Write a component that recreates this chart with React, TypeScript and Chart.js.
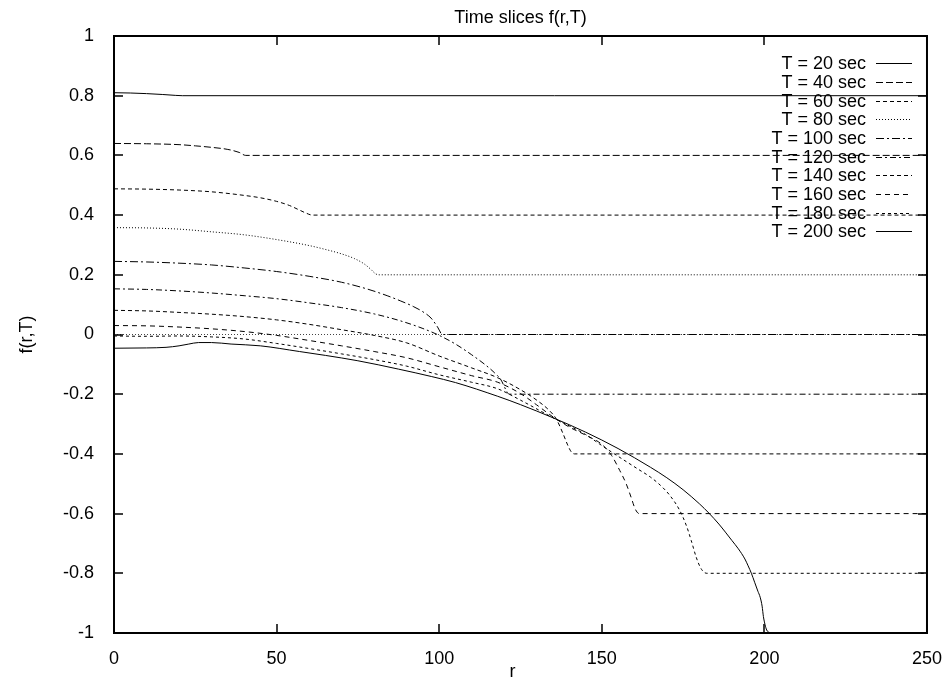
import React, { useEffect, useRef } from "react";
import { Chart, registerables } from "chart.js";

Chart.register(...registerables);

// ---------- text ----------
const TITLE = "Time slices f(r,T)";
const X_LABEL = "r";
const Y_LABEL = "f(r,T)";

// ---------- ticks ----------
const X_TICKS = [0, 50, 100, 150, 200, 250];
const X_TICK_LABELS = ["0", "50", "100", "150", "200", "250"];
const Y_TICKS = [-1, -0.8, -0.6, -0.4, -0.2, 0, 0.2, 0.4, 0.6, 0.8, 1];
const Y_TICK_LABELS = ["-1", "-0.8", "-0.6", "-0.4", "-0.2", "0", "0.2", "0.4", "0.6", "0.8", "1"];

// ---------- series ----------
const SERIES_LABELS = [
  "T = 20 sec", "T = 40 sec", "T = 60 sec", "T = 80 sec", "T = 100 sec",
  "T = 120 sec", "T = 140 sec", "T = 160 sec", "T = 180 sec", "T = 200 sec",
];

const r20 = [0, 5, 10, 15, 19, 21, 250];
const f20 = [0.81, 0.809, 0.807, 0.804, 0.801, 0.8, 0.8];

const r40 = [0, 10, 20, 25, 30, 35, 38.5, 40.5, 250];
const f40 = [0.64, 0.639, 0.636, 0.632, 0.627, 0.62, 0.61, 0.6, 0.6];

const r60 = [0, 10, 20, 30, 40, 45, 50, 54, 57, 59, 61, 250];
const f60 = [0.488, 0.487, 0.484, 0.478, 0.466, 0.458, 0.446, 0.432, 0.417, 0.407, 0.4, 0.4];

const r80 = [0, 10, 20, 30, 40, 50, 60, 65, 70, 74, 77, 79, 80.5, 81.5, 250];
const f80 = [0.358, 0.357, 0.353, 0.344, 0.334, 0.318, 0.298, 0.285, 0.27, 0.254, 0.236, 0.218, 0.203, 0.2, 0.2];

const r100 = [0, 10, 20, 30, 40, 50, 60, 70, 78, 84, 88, 92, 95, 97.5, 99.5, 101, 250];
const f100 = [0.245, 0.243, 0.239, 0.233, 0.223, 0.211, 0.195, 0.175, 0.152, 0.13, 0.113, 0.094, 0.076, 0.055, 0.025, 0, 0];

const r120 = [0, 10, 20, 30, 40, 50, 60, 70, 80, 88, 95, 100, 105, 110, 114, 117, 119, 120.5, 121.5, 250];
const f120 = [0.153, 0.151, 0.146, 0.139, 0.13, 0.12, 0.106, 0.09, 0.069, 0.046, 0.02, -0.003, -0.032, -0.068, -0.1, -0.128, -0.152, -0.185, -0.2, -0.2];

const r140 = [0, 10, 20, 30, 40, 50, 60, 70, 80, 90, 100, 110, 118, 125, 130, 134, 136, 138, 139.5, 140.6, 141.6, 250];
const f140 = [0.081, 0.079, 0.074, 0.068, 0.06, 0.049, 0.034, 0.016, -0.003, -0.028, -0.072, -0.112, -0.145, -0.185, -0.22, -0.256, -0.283, -0.33, -0.37, -0.393, -0.4, -0.4];

const r160 = [0, 10, 20, 30, 40, 50, 60, 70, 80, 90, 100, 110, 118, 125, 130, 135, 140, 145, 150, 153, 155.5, 157.5, 159, 160.3, 161.5, 250];
const f160 = [0.03, 0.029, 0.025, 0.019, 0.01, -0.003, -0.02, -0.038, -0.057, -0.078, -0.108, -0.138, -0.16, -0.198, -0.236, -0.276, -0.31, -0.337, -0.368, -0.405, -0.455, -0.5, -0.545, -0.585, -0.6, -0.6];

const r180 = [0, 10, 20, 30, 40, 50, 60, 70, 80, 90, 100, 110, 118, 125, 135, 145, 150, 155, 161, 165, 168, 171, 174, 176, 177.5, 179, 180.3, 181.5, 182.5, 250];
const f180 = [-0.005, -0.006, -0.005, -0.008, -0.015, -0.03, -0.047, -0.065, -0.084, -0.106, -0.135, -0.16, -0.182, -0.22, -0.279, -0.335, -0.372, -0.408, -0.45, -0.478, -0.505, -0.54, -0.59, -0.64, -0.69, -0.745, -0.78, -0.797, -0.8, -0.8];

const r200 = [0, 10, 16, 20, 23, 26, 30, 36, 45, 57, 65, 75, 87.5, 97.7, 105, 118, 125, 135, 145, 155, 165, 170, 175, 180, 183, 186, 188, 190, 192, 194, 195, 196, 197, 198, 198.7, 199.3, 199.7, 200.2, 200.7, 201.5, 202.5, 250];
const f200 = [-0.046, -0.045, -0.043, -0.038, -0.032, -0.027, -0.027, -0.032, -0.038, -0.057, -0.07, -0.088, -0.116, -0.141, -0.161, -0.207, -0.235, -0.279, -0.327, -0.382, -0.445, -0.48, -0.52, -0.567, -0.599, -0.635, -0.662, -0.69, -0.718, -0.752, -0.775, -0.8, -0.83, -0.86, -0.88, -0.91, -0.945, -0.972, -0.99, -0.998, -1, -1];

// gnuplot zero axis
const zeroR = [0, 250];
const zeroF = [0, 0];

const SERIES_R = [r20, r40, r60, r80, r100, r120, r140, r160, r180, r200];
const SERIES_F = [f20, f40, f60, f80, f100, f120, f140, f160, f180, f200];

// ---------- styles ----------
const DASHES: number[][] = [
  [], [7, 3], [4, 3], [1, 2], [8, 3, 2, 3], [6, 3, 2, 3], [4, 3], [5, 4], [3, 3], [],
];
const FONT = "'Liberation Sans', Arial, Helvetica, sans-serif";
const FS = 18;

const gnuplotPlugin = {
  id: "gnuplotDecor",
  afterDraw(chart: any) {
    const { ctx, chartArea: a, scales } = chart;
    const xs = scales.x;
    const ys = scales.y;
    ctx.save();
    ctx.strokeStyle = "#000";
    ctx.fillStyle = "#000";
    ctx.setLineDash([]);

    // frame
    ctx.lineWidth = 2;
    ctx.strokeRect(a.left, a.top, a.right - a.left, a.bottom - a.top);

    // inward ticks, mirrored
    const tl = 9;
    ctx.lineWidth = 1.5;
    ctx.beginPath();
    X_TICKS.forEach((v) => {
      const px = Math.round(xs.getPixelForValue(v));
      ctx.moveTo(px, a.bottom);
      ctx.lineTo(px, a.bottom - tl);
      ctx.moveTo(px, a.top);
      ctx.lineTo(px, a.top + tl);
    });
    Y_TICKS.forEach((v) => {
      const py = Math.round(ys.getPixelForValue(v));
      ctx.moveTo(a.left, py);
      ctx.lineTo(a.left + tl, py);
      ctx.moveTo(a.right, py);
      ctx.lineTo(a.right - tl, py);
    });
    ctx.stroke();

    // title
    ctx.font = `${FS}px ${FONT}`;
    ctx.textAlign = "center";
    ctx.textBaseline = "alphabetic";
    ctx.fillText(TITLE, (a.left + a.right) / 2, 23);

    // x label
    ctx.fillText(X_LABEL, (a.left + a.right) / 2 - 8, 677);

    // y label
    ctx.save();
    ctx.translate(27, (a.top + a.bottom) / 2);
    ctx.rotate(-Math.PI / 2);
    ctx.textBaseline = "middle";
    ctx.fillText(Y_LABEL, 0, 0);
    ctx.restore();

    // legend (gnuplot style: right-aligned text, sample at right)
    const ds = chart.data.datasets.filter((d: any) => !d.isAxis);
    ds.forEach((d: any, i: number) => {
      const y = 63.3 + i * 18.67;
      ctx.textAlign = "right";
      ctx.textBaseline = "middle";
      ctx.setLineDash([]);
      ctx.fillText(d.label, 866, y + 1);
      ctx.lineWidth = 1;
      ctx.setLineDash(d.borderDash || []);
      ctx.beginPath();
      ctx.moveTo(876, Math.round(y) + 0.5);
      ctx.lineTo(912, Math.round(y) + 0.5);
      ctx.stroke();
    });
    ctx.restore();
  },
};

export default function App() {
  const ref = useRef<HTMLCanvasElement | null>(null);

  useEffect(() => {
    if (!ref.current) return;
    Chart.defaults.font.family = FONT;
    const datasets: any[] = SERIES_LABELS.map((label, i) => ({
      label,
      data: SERIES_R[i].map((x, j) => ({ x, y: SERIES_F[i][j] })),
      borderColor: "#000",
      borderWidth: 1,
      borderDash: DASHES[i],
      pointRadius: 0,
      cubicInterpolationMode: "monotone",
      fill: false,
    }));
    datasets.push({
      label: "zero",
      isAxis: true,
      data: zeroR.map((x, j) => ({ x, y: zeroF[j] })),
      borderColor: "#444",
      borderWidth: 1,
      borderDash: [1, 2],
      pointRadius: 0,
      fill: false,
    });

    const chart = new Chart(ref.current, {
      type: "line",
      data: { datasets },
      options: {
        responsive: false,
        animation: false,
        devicePixelRatio: 1,
        layout: { padding: { left: 0, right: 18, top: 36, bottom: 0 } },
        plugins: {
          legend: { display: false },
          title: { display: false },
          tooltip: { enabled: false },
        },
        scales: {
          x: {
            type: "linear",
            min: 0,
            max: 250,
            grid: { display: false },
            border: { display: false },
            afterFit: (s: any) => { s.height = 46; },
            afterBuildTicks: (s: any) => { s.ticks = X_TICKS.map((v) => ({ value: v })); },
            ticks: {
              color: "#000",
              font: { size: FS, family: FONT },
              padding: 7,
              maxRotation: 0,
              autoSkip: false,
              callback: (v: any) => X_TICK_LABELS[X_TICKS.indexOf(Number(v))] ?? "",
            },
          },
          y: {
            type: "linear",
            min: -1,
            max: 1,
            grid: { display: false },
            border: { display: false },
            afterFit: (s: any) => { s.width = 114; },
            afterBuildTicks: (s: any) => { s.ticks = Y_TICKS.map((v) => ({ value: v })); },
            ticks: {
              color: "#000",
              font: { size: FS, family: FONT },
              padding: 12,
              autoSkip: false,
              callback: (v: any) => {
                const k = Y_TICKS.findIndex((t) => Math.abs(t - Number(v)) < 1e-9);
                return k >= 0 ? Y_TICK_LABELS[k] : "";
              },
            },
          },
        },
      } as any,
      plugins: [gnuplotPlugin],
    });
    return () => chart.destroy();
  }, []);

  return (
    <div style={{ position: "absolute", left: 0, top: 0, width: 949, height: 679, background: "#fff" }}>
      <canvas ref={ref} width={949} height={679} style={{ display: "block" }} />
    </div>
  );
}
